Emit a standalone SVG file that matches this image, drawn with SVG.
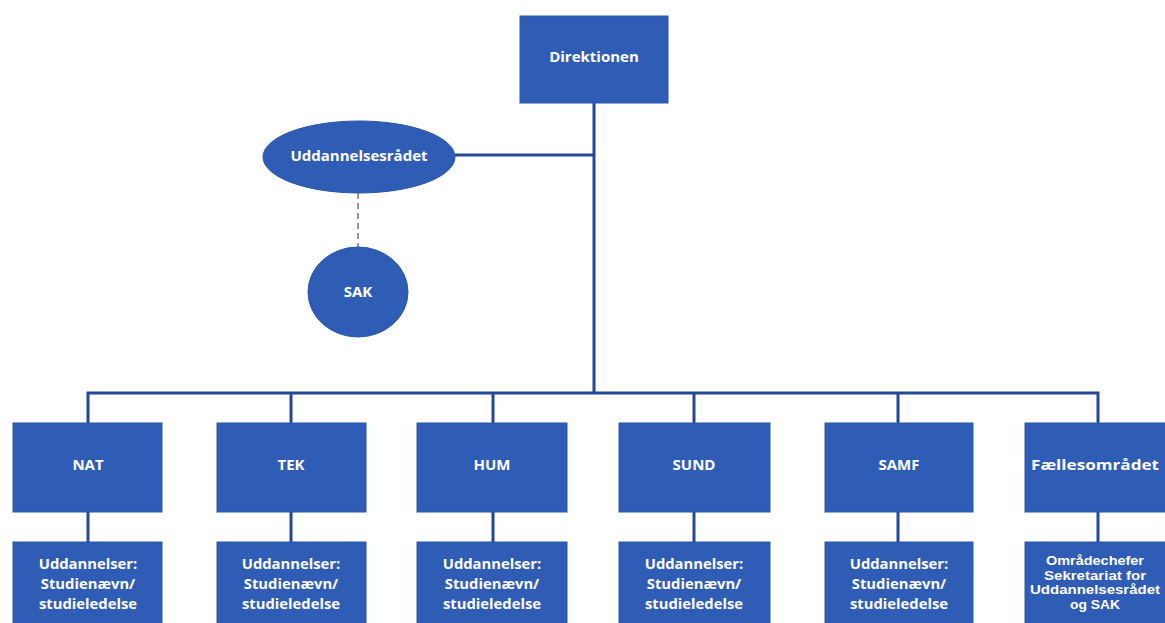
<svg xmlns="http://www.w3.org/2000/svg" width="1165" height="623" viewBox="0 0 1165 623">
<style>
.box{fill:#2f5db5;stroke:#2a55a8;stroke-width:1}
.ln{stroke:#24479a;stroke-width:3;fill:none}
.dash{stroke:#333;stroke-width:1;stroke-dasharray:6,4;fill:none}
text{font-family:"Open Sans","Liberation Sans",sans-serif;font-weight:bold;fill:#fff;text-anchor:middle}
.t1{font-size:15px}
.t2{font-size:14.8px}
.t3{font-family:"Liberation Sans",Arial,sans-serif;font-size:12.4px}
</style>
<rect width="1165" height="623" fill="#fff"/>
<g id="connectors">
<line class="ln" x1="594" y1="103" x2="594" y2="393"/>
<line class="ln" x1="455" y1="155" x2="594" y2="155"/>
<line class="dash" x1="358" y1="193" x2="358" y2="247"/>
<polyline class="ln" points="88,423 88,393 1098,393 1098,423"/>
<line class="ln" x1="291" y1="393" x2="291" y2="423"/>
<line class="ln" x1="493" y1="393" x2="493" y2="423"/>
<line class="ln" x1="694" y1="393" x2="694" y2="423"/>
<line class="ln" x1="898" y1="393" x2="898" y2="423"/>
<line class="ln" x1="88" y1="512" x2="88" y2="542"/>
<line class="ln" x1="291" y1="512" x2="291" y2="542"/>
<line class="ln" x1="493" y1="512" x2="493" y2="542"/>
<line class="ln" x1="694" y1="512" x2="694" y2="542"/>
<line class="ln" x1="898" y1="512" x2="898" y2="542"/>
<line class="ln" x1="1098" y1="512" x2="1098" y2="542"/>
</g>
<g id="direktionen"><rect class="box" x="520" y="16" width="148" height="87"/><text class="t1" x="594" y="62">Direktionen</text></g>
<g id="uddannelsesraadet"><ellipse class="box" cx="359" cy="157" rx="96" ry="36"/><text class="t1" x="359" y="161">Uddannelsesrådet</text></g>
<g id="sak"><ellipse class="box" cx="358" cy="292" rx="50" ry="45"/><text class="t1" x="358" y="297">SAK</text></g>
<g id="nat"><rect class="box" x="13" y="423" width="149" height="89"/><text class="t1" x="88" y="470">NAT</text></g>
<g id="tek"><rect class="box" x="217" y="423" width="149" height="89"/><text class="t1" x="291" y="470">TEK</text></g>
<g id="hum"><rect class="box" x="417" y="423" width="150" height="89"/><text class="t1" x="492" y="470">HUM</text></g>
<g id="sund"><rect class="box" x="619" y="423" width="151" height="89"/><text class="t1" x="694" y="470">SUND</text></g>
<g id="samf"><rect class="box" x="825" y="423" width="148" height="89"/><text class="t1" x="899" y="470">SAMF</text></g>
<g id="faelles"><rect class="box" x="1025" y="423" width="148" height="89"/><text class="t1" x="1095" y="470" textLength="128" lengthAdjust="spacingAndGlyphs">Fællesområdet</text></g>
<g id="nat-udd"><rect class="box" x="13" y="542" width="149" height="90"/><text class="t2" x="88" y="569">Uddannelser:</text><text class="t2" x="88" y="589">Studienævn/</text><text class="t2" x="88" y="609">studieledelse</text></g>
<g id="tek-udd"><rect class="box" x="217" y="542" width="149" height="90"/><text class="t2" x="291" y="569">Uddannelser:</text><text class="t2" x="291" y="589">Studienævn/</text><text class="t2" x="291" y="609">studieledelse</text></g>
<g id="hum-udd"><rect class="box" x="417" y="542" width="150" height="90"/><text class="t2" x="492" y="569">Uddannelser:</text><text class="t2" x="492" y="589">Studienævn/</text><text class="t2" x="492" y="609">studieledelse</text></g>
<g id="sund-udd"><rect class="box" x="619" y="542" width="151" height="90"/><text class="t2" x="694" y="569">Uddannelser:</text><text class="t2" x="694" y="589">Studienævn/</text><text class="t2" x="694" y="609">studieledelse</text></g>
<g id="samf-udd"><rect class="box" x="825" y="542" width="148" height="90"/><text class="t2" x="899" y="569">Uddannelser:</text><text class="t2" x="899" y="589">Studienævn/</text><text class="t2" x="899" y="609">studieledelse</text></g>
<g id="faelles-udd"><rect class="box" x="1025" y="542" width="148" height="90"/><text class="t3" x="1095" y="565" textLength="98" lengthAdjust="spacingAndGlyphs">Områdechefer</text><text class="t3" x="1095" y="579.5" textLength="102" lengthAdjust="spacingAndGlyphs">Sekretariat for</text><text class="t3" x="1095" y="594" textLength="130" lengthAdjust="spacingAndGlyphs">Uddannelsesrådet</text><text class="t3" x="1095" y="608.5" textLength="50" lengthAdjust="spacingAndGlyphs">og SAK</text></g>
</svg>
